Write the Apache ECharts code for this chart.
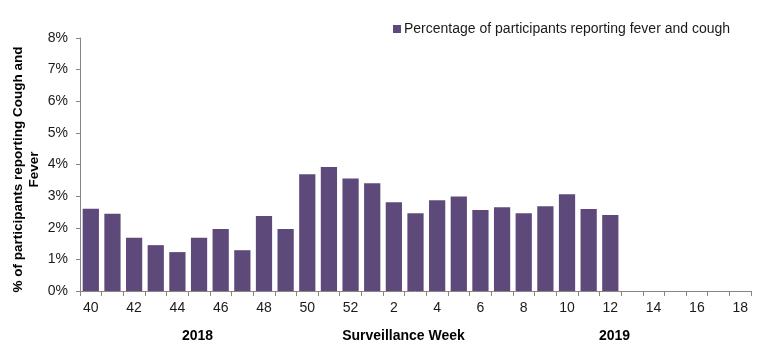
<!DOCTYPE html>
<html><head><meta charset="utf-8">
<script src="https://cdn.jsdelivr.net/npm/echarts@6/dist/echarts.min.js"></script>
<style>html,body{margin:0;padding:0;background:#fff}#c{width:773px;height:349px}</style>
</head><body><div id="c"></div>
<script>
const weeks = [40,41,42,43,44,45,46,47,48,49,50,51,52,1,2,3,4,5,6,7,8,9,10,11,12,13,14,15,16,17,18];
const feverCough = [2.6,2.44,1.68,1.45,1.23,1.68,1.96,1.29,2.37,1.96,3.69,3.92,3.56,3.41,2.81,2.46,2.87,2.99,2.56,2.65,2.46,2.68,3.06,2.59,2.40,null,null,null,null,null,null];
const yTicks = [0,1,2,3,4,5,6,7,8];
const seriesName = 'Percentage of participants reporting fever and cough';
const yTitle = '% of participants reporting Cough and\nFever';
const xTitle = 'Surveillance Week';
const yearLabels = ['2018','2019'];

const chart = echarts.init(document.getElementById('c'));
const font = 'Liberation Sans, Arial, sans-serif';
chart.setOption({
  animation:false,
  grid:{left:80,right:22,top:38,bottom:58,containLabel:false,outerBoundsMode:'none'},
  legend:{data:[seriesName],left:388,top:17,itemWidth:8,itemHeight:8,itemGap:4,
    icon:'rect',textStyle:{fontFamily:font,fontSize:14,color:'#1a1a1a',padding:[0,0,0,-2]}},
  xAxis:{type:'category',data:weeks.map(String),boundaryGap:true,
    axisLine:{lineStyle:{color:'#868686',width:1}},
    axisTick:{show:true,interval:0,length:5,lineStyle:{color:'#868686'}},
    axisLabel:{interval:1,color:'#1a1a1a',fontFamily:font,fontSize:14,margin:10},
    name:xTitle,nameLocation:'middle',nameGap:38,nameMoveOverlap:false,
    nameTextStyle:{fontFamily:font,fontSize:14,fontWeight:'bold',color:'#000',padding:[0,24,0,0]}},
  yAxis:{type:'value',min:0,max:8,interval:1,
    axisLine:{show:true,lineStyle:{color:'#868686'}},
    axisTick:{show:true,length:4,lineStyle:{color:'#868686'}},
    splitLine:{show:false},
    axisLabel:{formatter:v=>v+'%',color:'#1a1a1a',fontFamily:font,fontSize:14,margin:12},
    name:yTitle,nameLocation:'middle',nameGap:38,nameRotate:90,nameMoveOverlap:false,
    nameTextStyle:{fontFamily:font,fontSize:13.5,fontWeight:'bold',color:'#000',lineHeight:16,align:'center',padding:[0,10,0,0]}},
  series:[{name:seriesName,type:'bar',data:feverCough,barCategoryGap:'25%',
    itemStyle:{color:'#5E4A7A'}}],
  graphic:[
    {type:'text',left:182,top:329,style:{text:yearLabels[0],font:'bold 14px '+font,fill:'#000'}},
    {type:'text',left:599,top:329,style:{text:yearLabels[1],font:'bold 14px '+font,fill:'#000'}}
  ]
});
</script></body></html>
